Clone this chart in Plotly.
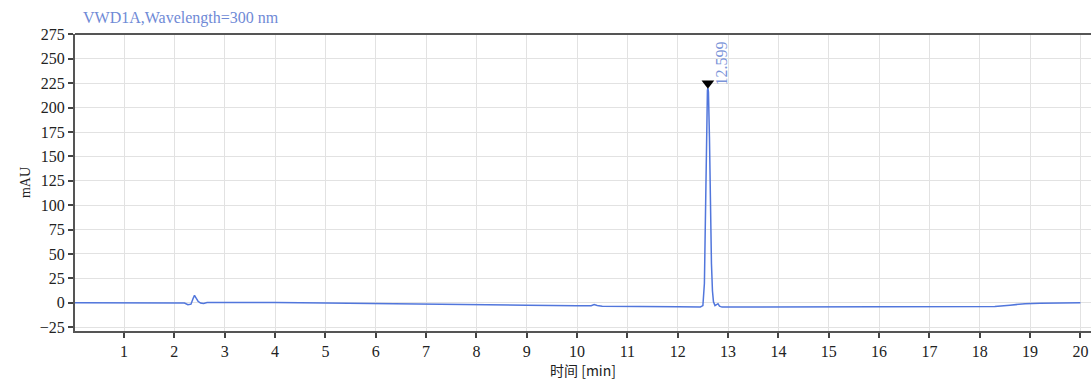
import plotly.graph_objects as go

time_min = [0.0, 0.5, 1.0, 1.5, 2.0, 2.2, 2.27, 2.33, 2.37, 2.40, 2.43, 2.47, 2.52, 2.58, 2.65, 3.0,
            4.0, 5.0, 6.0, 7.0, 8.0, 9.0, 10.0, 10.28, 10.34, 10.40, 10.5, 11.0, 12.0, 12.45,
            12.50, 12.53, 12.55, 12.57, 12.59, 12.60, 12.61, 12.63, 12.65, 12.67, 12.69, 12.71,
            12.74, 12.78, 12.80, 12.83, 12.88, 13.0, 14.0, 15.0, 16.0, 17.0, 18.0, 18.3, 18.6,
            18.9, 19.2, 19.6, 20.0]
signal_mau = [0.0, 0.0, 0.0, 0.0, 0.0, -0.3, -2.0, -1.5, 4.0, 7.5, 5.0, 1.5, -0.3, -0.8, 0.2, 0.3,
              0.1, -0.3, -1.0, -1.5, -2.2, -2.6, -3.0, -3.0, -1.8, -2.8, -3.6, -4.0, -4.2, -4.3,
              -3.0, 20.0, 90.0, 180.0, 218.0, 220.0, 216.0, 170.0, 95.0, 40.0, 12.0, 1.0,
              -3.0, -1.5, -1.0, -3.5, -4.5, -4.5, -4.5, -4.5, -4.5, -4.5, -4.5, -4.0, -2.5,
              -1.0, -0.5, -0.2, 0.0]

peak_rt = [12.599]
peak_marker_y = [225]
peak_labels = ["12.599"]

x_ticks = list(range(1, 21))
y_ticks = list(range(-25, 276, 25))

serif = "Liberation Serif, DejaVu Serif, serif"

fig = go.Figure()
fig.add_trace(go.Scatter(x=time_min, y=signal_mau, mode="lines",
                         line=dict(color="#5176dc", width=1.5), showlegend=False))
fig.add_trace(go.Scatter(x=peak_rt, y=peak_marker_y, mode="markers",
                         marker=dict(symbol="triangle-down", color="black", size=11),
                         showlegend=False))
for xr, lab in zip(peak_rt, peak_labels):
    fig.add_annotation(x=xr, y=221, text=lab, textangle=-90, showarrow=False,
                       xanchor="left", yanchor="bottom", xshift=3,
                       font=dict(family=serif, size=16, color="#7a93d8"))

fig.add_annotation(x=0, y=1, xref="paper", yref="paper", text="VWD1A,Wavelength=300 nm",
                   showarrow=False, xanchor="left", yanchor="bottom", xshift=6, yshift=5,
                   font=dict(family=serif, size=16, color="#6f8ad6"))

# top frame line
fig.add_shape(type="line", xref="paper", yref="paper", x0=0, x1=1, y0=1, y1=1,
              line=dict(color="#555", width=2))

fig.update_xaxes(range=[0.026, 20.21], tickvals=x_ticks, ticks="outside", ticklen=5,
                 tickcolor="#444", tickwidth=1.5, automargin=False,
                 showline=True, linecolor="#555", linewidth=2,
                 showgrid=True, gridcolor="#e2e2e2", gridwidth=1, zeroline=False,
                 tickfont=dict(family=serif, size=16, color="#222"),
                 title=dict(text="时间 [min]", standoff=4,
                            font=dict(family="Noto Sans CJK SC, " + serif, size=14, color="#222")))
fig.update_yaxes(range=[-29, 275.5], tickvals=y_ticks, ticks="outside", ticklen=5,
                 tickcolor="#444", tickwidth=1.5, automargin=False,
                 showline=True, linecolor="#555", linewidth=2,
                 showgrid=True, gridcolor="#e2e2e2", gridwidth=1, zeroline=False,
                 tickfont=dict(family=serif, size=16, color="#222"),
                 title=dict(text="mAU", standoff=6,
                            font=dict(family=serif, size=14, color="#222")))

fig.update_layout(width=1091, height=381, margin=dict(l=75, r=0, t=34, b=50),
                  paper_bgcolor="white", plot_bgcolor="white")
fig.write_html("out.html")
